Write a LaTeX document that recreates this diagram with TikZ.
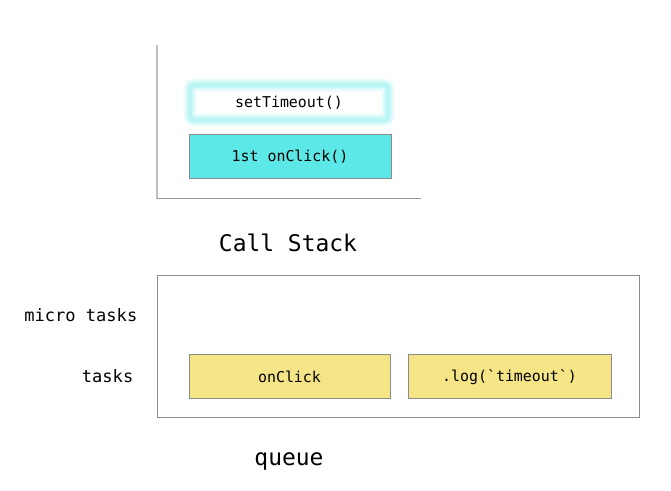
\documentclass[tikz,border=0pt]{standalone}
\usepackage{fontspec}
\setmonofont{DejaVu Sans Mono}
\definecolor{stackcyan}{HTML}{5CE8E6}
\definecolor{taskyellow}{HTML}{F5E586}
\definecolor{glow}{HTML}{5CE8E6}
\begin{document}
\begin{tikzpicture}[x=0.75pt,y=-0.75pt,
  box/.style={draw=black!45, line width=0.75pt, inner sep=0pt},
  boxtext/.style={font=\ttfamily\fontsize{11.2}{13}\selectfont},
  sidelabel/.style={font=\ttfamily\fontsize{12.8}{15}\selectfont, anchor=east},
  title/.style={font=\ttfamily\fontsize{17.2}{20}\selectfont}]
\useasboundingbox (0,0) rectangle (671,491);
% call stack axes
\coordinate (axtop) at (157,45);
\coordinate (axcorner) at (157,199);
\coordinate (axright) at (421,199);
\draw[black!25, line width=1pt] (axtop) -- (axcorner);
\draw[black!40, line width=0.75pt] (axcorner) -- (axright);
% setTimeout glowing box
\foreach \w/\o in {10/0.07,8.5/0.07,7/0.08,5.5/0.09,4/0.10,2.5/0.12}
  \draw[glow, line width=\w pt, opacity=\o, rounded corners=3pt] (190,85) rectangle (388,120);
\node[boxtext] (st) at (289,103) {setTimeout()};
% 1st onClick
\node[box, fill=stackcyan, minimum width=202*0.75pt, minimum height=44*0.75pt] (oc1) at (290,157) {};
\node[boxtext] at (oc1.center) {1st onClick()};
\node[title] (cs) at (288,243) {Call Stack};
% queue
\node[box, minimum width=482*0.75pt, minimum height=142*0.75pt] (q) at (398,347) {};
\node[sidelabel] (micro) at (142,315) {micro tasks};
\node[sidelabel] (tasks) at (138,376) {tasks};
\node[box, fill=taskyellow, minimum width=201*0.75pt, minimum height=44*0.75pt, boxtext] (t1) at (289.5,377) {onClick};
\node[box, fill=taskyellow, minimum width=203*0.75pt, minimum height=44*0.75pt, boxtext] (t2) at (509.5,377) {.log(`timeout`)};
\node[title] (ql) at (289,461) {queue};
\end{tikzpicture}
\end{document}
